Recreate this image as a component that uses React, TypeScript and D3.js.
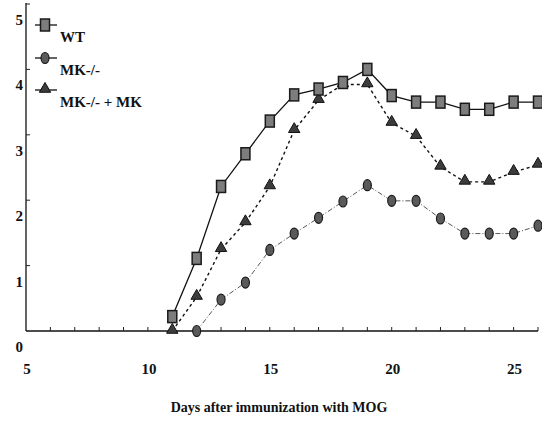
import { useEffect, useRef } from 'react'
import * as d3 from 'd3'

const wtDays = [11, 12, 13, 14, 15, 16, 17, 18, 19, 20, 21, 22, 23, 24, 25, 26]
const wtScores = [0.22, 1.11, 2.21, 2.71, 3.21, 3.61, 3.7, 3.8, 4.0, 3.6, 3.5, 3.5, 3.39, 3.39, 3.5, 3.5]

const koDays = [12, 13, 14, 15, 16, 17, 18, 19, 20, 21, 22, 23, 24, 25, 26]
const koScores = [0, 0.48, 0.74, 1.24, 1.49, 1.73, 1.98, 2.23, 1.99, 1.99, 1.72, 1.49, 1.49, 1.49, 1.61]

const rescueDays = [11, 12, 13, 14, 15, 16, 17, 18, 19, 20, 21, 22, 23, 24, 25, 26]
const rescueScores = [0, 0.52, 1.25, 1.66, 2.21, 3.07, 3.53, 3.77, 3.77, 3.18, 2.98, 2.51, 2.28, 2.28, 2.43, 2.54]

const xTickLabels = [5, 10, 15, 20, 25]
const yTickLabels = [0, 1, 2, 3, 4, 5]
const legendLabels = ['WT', 'MK-/-', 'MK-/- + MK']

type Pt = { day: number; score: number }
const zipSeries = (days: number[], scores: number[]): Pt[] => days.map((day, i) => ({ day, score: scores[i] }))

const W = 542
const H = 426
const FONT = "'Liberation Serif', 'DejaVu Serif', serif"

export default function App() {
  const ref = useRef<SVGSVGElement | null>(null)

  useEffect(() => {
    if (!ref.current) {return}
    const svg = d3.select(ref.current)
    svg.selectAll('*').remove()

    const x = d3.scaleLinear().domain([5, 26]).range([26, 538])
    const y = d3.scaleLinear().domain([0, 5]).range([331, 4])

    const root = svg.append('g').style('font-family', FONT).style('font-weight', 'bold')

    // axes
    root.append('line').attr('x1', x(5)).attr('x2', x(26)).attr('y1', y(0)).attr('y2', y(0))
      .attr('stroke', '#111').attr('stroke-width', 1.3)
    root.append('line').attr('x1', x(5)).attr('x2', x(5)).attr('y1', y(0)).attr('y2', y(5) - 1)
      .attr('stroke', '#111').attr('stroke-width', 1.3)

    root.append('g').selectAll('line').data(d3.range(6, 27)).join('line')
      .attr('x1', (d) => x(d)).attr('x2', (d) => x(d))
      .attr('y1', y(0)).attr('y2', y(0) - 4)
      .attr('stroke', '#222').attr('stroke-width', 1)

    root.append('g').selectAll('line').data(yTickLabels.slice(1)).join('line')
      .attr('x1', x(5)).attr('x2', x(5) + 4)
      .attr('y1', (d) => y(d)).attr('y2', (d) => y(d))
      .attr('stroke', '#222').attr('stroke-width', 1)

    root.append('g').selectAll('text').data(xTickLabels).join('text')
      .attr('x', (d) => x(d) + 1).attr('y', 374)
      .attr('text-anchor', 'middle')
      .style('font-size', '15px')
      .attr('fill', '#111')
      .text((d) => d)

    root.append('g').selectAll('text').data(yTickLabels).join('text')
      .attr('x', 23).attr('y', (d) => y(d) + 21)
      .attr('text-anchor', 'end')
      .style('font-size', '15px')
      .attr('fill', '#111')
      .text((d) => d)

    root.append('text')
      .attr('x', 279).attr('y', 412)
      .attr('text-anchor', 'middle')
      .style('font-size', '14px')
      .attr('fill', '#111')
      .text('Days after immunization with MOG')

    const line = d3.line<Pt>().x((d) => x(d.day)).y((d) => y(d.score))

    const ko = zipSeries(koDays, koScores)
    const rescue = zipSeries(rescueDays, rescueScores)
    const wt = zipSeries(wtDays, wtScores)

    const tri = d3.symbol(d3.symbolTriangle, 56)

    // MK-/- : thin dash-dot
    root.append('path').datum(ko).attr('d', line).attr('fill', 'none')
      .attr('stroke', '#444').attr('stroke-width', 0.9).attr('stroke-dasharray', '5,2,1,2')
    // MK-/- + MK : dashed
    root.append('path').datum(rescue).attr('d', line).attr('fill', 'none')
      .attr('stroke', '#111').attr('stroke-width', 1.4).attr('stroke-dasharray', '3,3')
    // WT : solid
    root.append('path').datum(wt).attr('d', line).attr('fill', 'none')
      .attr('stroke', '#111').attr('stroke-width', 1.3)

    root.append('g').selectAll('ellipse').data(ko).join('ellipse')
      .attr('cx', (d) => x(d.day)).attr('cy', (d) => y(d.score))
      .attr('rx', 4).attr('ry', 5.5)
      .attr('fill', '#5a5a5a').attr('stroke', '#1a1a1a').attr('stroke-width', 1.2)
    root.append('g').selectAll('path').data(rescue).join('path')
      .attr('d', tri)
      .attr('transform', (d) => `translate(${x(d.day)},${y(d.score) - 1})`)
      .attr('fill', '#3c3c3c').attr('stroke', '#111').attr('stroke-width', 1)
    root.append('g').selectAll('rect').data(wt).join('rect')
      .attr('x', (d) => x(d.day) - 4.5).attr('y', (d) => y(d.score) - 6)
      .attr('width', 9).attr('height', 12)
      .attr('fill', '#7d7d7d').attr('stroke', '#1a1a1a').attr('stroke-width', 1.5)

    // legend
    const legY = [25, 58, 90]
    const lg = root.append('g')
    lg.selectAll('line').data(legY).join('line')
      .attr('x1', 35).attr('x2', 57).attr('y1', (d) => d).attr('y2', (d) => d)
      .attr('stroke', '#111').attr('stroke-width', 1.3)
    lg.append('rect').attr('x', 45 - 4.5).attr('y', legY[0] - 6).attr('width', 9).attr('height', 12)
      .attr('fill', '#7d7d7d').attr('stroke', '#1a1a1a').attr('stroke-width', 1.5)
    lg.append('ellipse').attr('cx', 45).attr('cy', legY[1]).attr('rx', 4).attr('ry', 5.5)
      .attr('fill', '#5a5a5a').attr('stroke', '#1a1a1a').attr('stroke-width', 1.2)
    lg.append('path').attr('d', tri).attr('transform', `translate(45,${legY[2] - 1})`)
      .attr('fill', '#3c3c3c').attr('stroke', '#111').attr('stroke-width', 1)
    lg.selectAll('text').data(legendLabels).join('text')
      .attr('x', 60).attr('y', (_, i) => legY[i] + 17)
      .style('font-size', '15px')
      .attr('fill', '#111')
      .text((d) => d)
  }, [])

  return (
    <div style={{ position: 'absolute', left: 0, top: 0, width: W, height: H, background: '#fff' }}>
      <svg ref={ref} width={W} height={H} role="img" aria-label="Clinical score line chart" style={{ display: 'block' }} />
    </div>
  )
}
